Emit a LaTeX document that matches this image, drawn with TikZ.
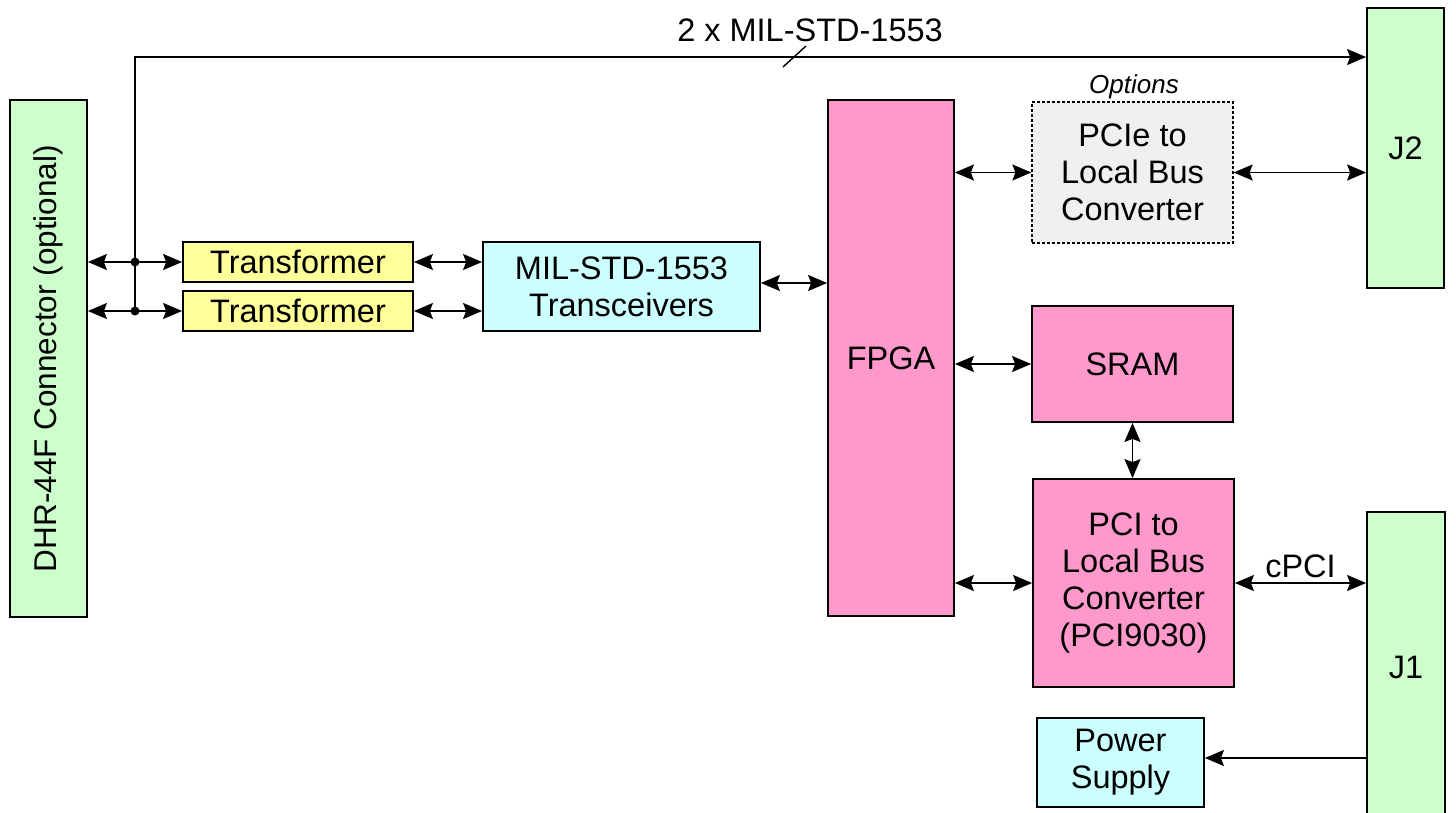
\documentclass[tikz,border=0pt]{standalone}
\usepackage{fontspec}
\setmainfont{Liberation Sans}
\usetikzlibrary{arrows.meta}
\definecolor{cgreen}{HTML}{CCFFCC}
\definecolor{cyellow}{HTML}{FFFF99}
\definecolor{ccyan}{HTML}{CCFFFF}
\definecolor{cpink}{HTML}{FF99CC}
\definecolor{cgrey}{HTML}{EFF1F1}
\begin{document}
\begin{tikzpicture}[x=1pt,y=-1pt,
  blk/.style={draw=black,line width=1.8pt,inner sep=0pt,align=center,
    font=\fontsize{32.5}{37}\selectfont},
  arr/.style={line width=1.7pt,{Stealth[length=19pt,width=16pt,inset=3pt]}-{Stealth[length=19pt,width=16pt,inset=3pt]}},
  sarr/.style={line width=1.7pt,-{Stealth[length=19pt,width=16pt,inset=3pt]}},
  dot/.style={circle,fill=black,inner sep=0pt,minimum size=9pt}]
\useasboundingbox (0,0) rectangle (1456,812);
% blocks
\node[blk,fill=cgreen,minimum width=77pt,minimum height=517pt] (dhr) at (48.5,358.5)
  {\rotatebox{90}{\fontsize{31.5}{37}\selectfont DHR-44F Connector (optional)}};
\node[blk,fill=cyellow,minimum width=230pt,minimum height=40pt] (t1) at (298,262) {Transformer};
\node[blk,fill=cyellow,minimum width=230pt,minimum height=40pt] (t2) at (298,311) {Transformer};
\node[blk,fill=ccyan,minimum width=277pt,minimum height=89pt] (trx) at (621.5,286.5) {MIL-STD-1553\\Transceivers};
\node[blk,fill=cpink,minimum width=126pt,minimum height=516pt] (fpga) at (891,358) {FPGA};
\node[blk,fill=cgrey,dashed,dash pattern=on 3pt off 2pt,line width=1.2pt,minimum width=201pt,minimum height=141pt] (pcie) at (1132.5,172.5) {PCIe to\\Local Bus\\Converter};
\node[font=\itshape\fontsize{26}{30}\selectfont] (opt) at (1134,87) {Options};
\node[blk,fill=cgreen,minimum width=77pt,minimum height=280pt] (jtwo) at (1405.5,148) {J2};
\node[blk,fill=cpink,minimum width=201pt,minimum height=116pt] (sram) at (1132.5,364) {SRAM};
\node[blk,fill=cpink,minimum width=201pt,minimum height=208pt] (pci) at (1133.5,583) {PCI to\\Local Bus\\Converter\\(PCI9030)};
\node[blk,fill=cgreen,minimum width=78pt,minimum height=310pt] (jone) at (1406,667) {J1};
\node[blk,fill=ccyan,minimum width=167pt,minimum height=89pt] (ps) at (1120.5,762.5) {Power\\Supply};
% junctions
\coordinate (ja) at (135,262);
\coordinate (jb) at (135,311);
\coordinate (busy) at (0,57);
\node[dot] (da) at (ja) {};
\node[dot] (db) at (jb) {};
% connectors
\draw[arr] (dhr.east |- t1.west) -- (t1.west);
\draw[arr] (dhr.east |- t2.west) -- (t2.west);
\draw[line width=1.7pt] (jb) -- (ja);
\draw[sarr] (ja) |- (jtwo.west |- busy);
\draw[line width=1.4pt] (783,67) -- (806,46);
\node[font=\fontsize{32.5}{37}\selectfont] (buslbl) at (810,30) {2 x MIL-STD-1553};
\draw[arr] (t1.east) -- (t1.east -| trx.west);
\draw[arr] (t2.east) -- (t2.east -| trx.west);
\draw[arr] (trx.east |- 0,283) -- (fpga.west |- 0,283);
\draw[arr] (fpga.east |- pcie.west) -- (pcie.west);
\draw[arr] (pcie.east) -- (jtwo.west |- pcie.east);
\draw[arr] (fpga.east |- sram.west) -- (sram.west);
\draw[arr] (sram.south) -- (pci.north -| sram.south);
\draw[arr] (fpga.east |- pci.west) -- (pci.west);
\draw[arr] (pci.east) -- node[above=1pt,font=\fontsize{32.5}{37}\selectfont] (cpci) {cPCI} (jone.west |- pci.east);
\draw[sarr] (jone.west |- 0,758) -- (ps.east |- 0,758);
\end{tikzpicture}
\end{document}
